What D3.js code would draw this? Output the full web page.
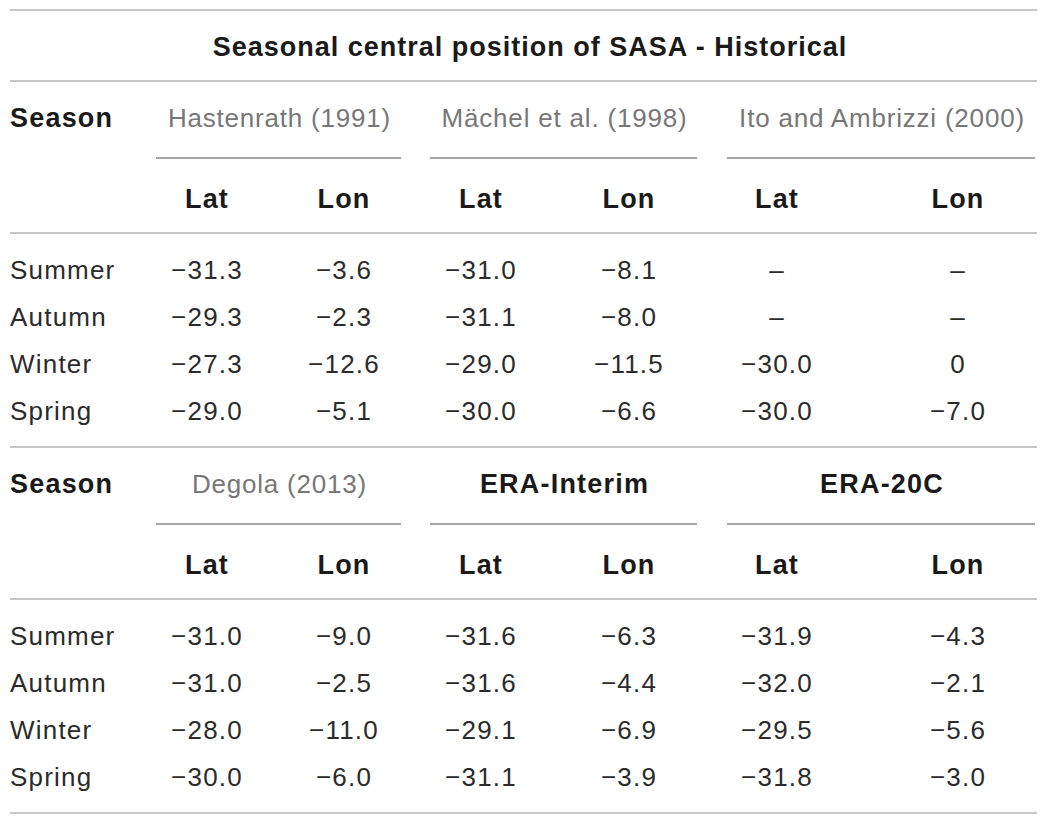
<!DOCTYPE html>
<html>
<head>
<meta charset="utf-8">
<script src="https://cdn.jsdelivr.net/npm/d3@7"></script>
<style>
  body { margin: 0; background: #fff; }
  svg text { font-family: "Liberation Sans", Arial, Helvetica, sans-serif; }
</style>
</head>
<body>
<div id="table"></div>
<script>
// table content
var title = "Seasonal central position of SASA - Historical";
var seasons = ["Summer", "Autumn", "Winter", "Spring"];
var subCols = ["Lat", "Lon"];
var sources1 = ["Hastenrath (1991)", "Mächel et al. (1998)", "Ito and Ambrizzi (2000)"];
var sources2 = ["Degola (2013)", "ERA-Interim", "ERA-20C"];
var cited2 = [true, false, false]; // literature sources are grey, reanalyses bold

// values per season row: [lat, lon] for each source, null = no data
var hastenrath = [[-31.3, -3.6], [-29.3, -2.3], [-27.3, -12.6], [-29.0, -5.1]];
var machel     = [[-31.0, -8.1], [-31.1, -8.0], [-29.0, -11.5], [-30.0, -6.6]];
var itoAmbrizzi = [[null, null], [null, null], [-30.0, 0], [-30.0, -7.0]];
var degola     = [[-31.0, -9.0], [-31.0, -2.5], [-28.0, -11.0], [-30.0, -6.0]];
var eraInterim = [[-31.6, -6.3], [-31.6, -4.4], [-29.1, -6.9], [-31.1, -3.9]];
var era20c     = [[-31.9, -4.3], [-32.0, -2.1], [-29.5, -5.6], [-31.8, -3.0]];

drawTable();

function fmt(v) {
    if (v === null) return "\u2013";
    if (v === 0) return "0";
    var s = Math.abs(v).toFixed(1);
    return (v < 0 ? "\u2212" : "") + s;
}

function drawTable() {
    var width = 1050, height = 825;
    var svg = d3.select("#table").append("svg")
        .attr("width", width).attr("height", height);

    var left = 10, right = 1037;
    // column centres of the six value columns
    var colX = d3.scaleOrdinal().domain(d3.range(6)).range([207, 344, 481, 629, 777, 958]);
    var groupSpan = [[156, 401], [430, 697], [727, 1035]];

    var ruleColor = "#b5b5b5", textColor = "#2b2b2b", headColor = "#1a1a1a";

    function hline(y, x1, x2, color) {
        svg.append("line")
            .attr("x1", x1).attr("x2", x2).attr("y1", y).attr("y2", y)
            .attr("stroke", color || ruleColor).attr("stroke-width", 1.3);
    }
    function txt(x, y, s, opts) {
        opts = opts || {};
        return svg.append("text")
            .attr("x", x).attr("y", y)
            .attr("dominant-baseline", "central")
            .attr("text-anchor", opts.anchor || "middle")
            .attr("font-size", opts.size || 26)
            .attr("font-weight", opts.bold ? "bold" : "normal")
            .attr("letter-spacing", opts.ls != null ? opts.ls : 1.2)
            .attr("fill", opts.color || textColor)
            .text(s);
    }
    var bold = {bold: true, size: 27, ls: 1.2, color: headColor};

    hline(10, left, right);
    txt(530, 47, title, {bold: true, size: 27, ls: 1.0, color: headColor});
    hline(81, left, right);

    function block(top, sources, bolds, data) {
        var yHead = top + 37, yUnder = top + 77, ySub = top + 118, yRule = top + 152;
        txt(left, yHead, "Season", Object.assign({}, bold, {anchor: "start"}));
        sources.forEach(function (s, i) {
            var cx = (groupSpan[i][0] + groupSpan[i][1]) / 2 + 1;
            txt(cx, yHead, s, bolds[i] ? bold : {color: "#777", ls: 0.8});
            hline(yUnder, groupSpan[i][0], groupSpan[i][1], "#8a8a8a");
            subCols.forEach(function (c, j) {
                txt(colX(i * 2 + j), ySub, c, bold);
            });
        });
        hline(yRule, left, right);

        var y = d3.scalePoint().domain(seasons).range([top + 189, top + 330]);
        seasons.forEach(function (season, r) {
            txt(left, y(season), season, {anchor: "start"});
            data.forEach(function (src, i) {
                src[r].forEach(function (v, j) {
                    txt(colX(i * 2 + j), y(season), fmt(v));
                });
            });
        });
        return top + 366;
    }

    var next = block(81, sources1, [false, false, false], [hastenrath, machel, itoAmbrizzi]);
    hline(next, left, right);
    var end = block(next, sources2, cited2.map(function (c) { return !c; }), [degola, eraInterim, era20c]);
    hline(end, left, right);
}
</script>
</body>
</html>
